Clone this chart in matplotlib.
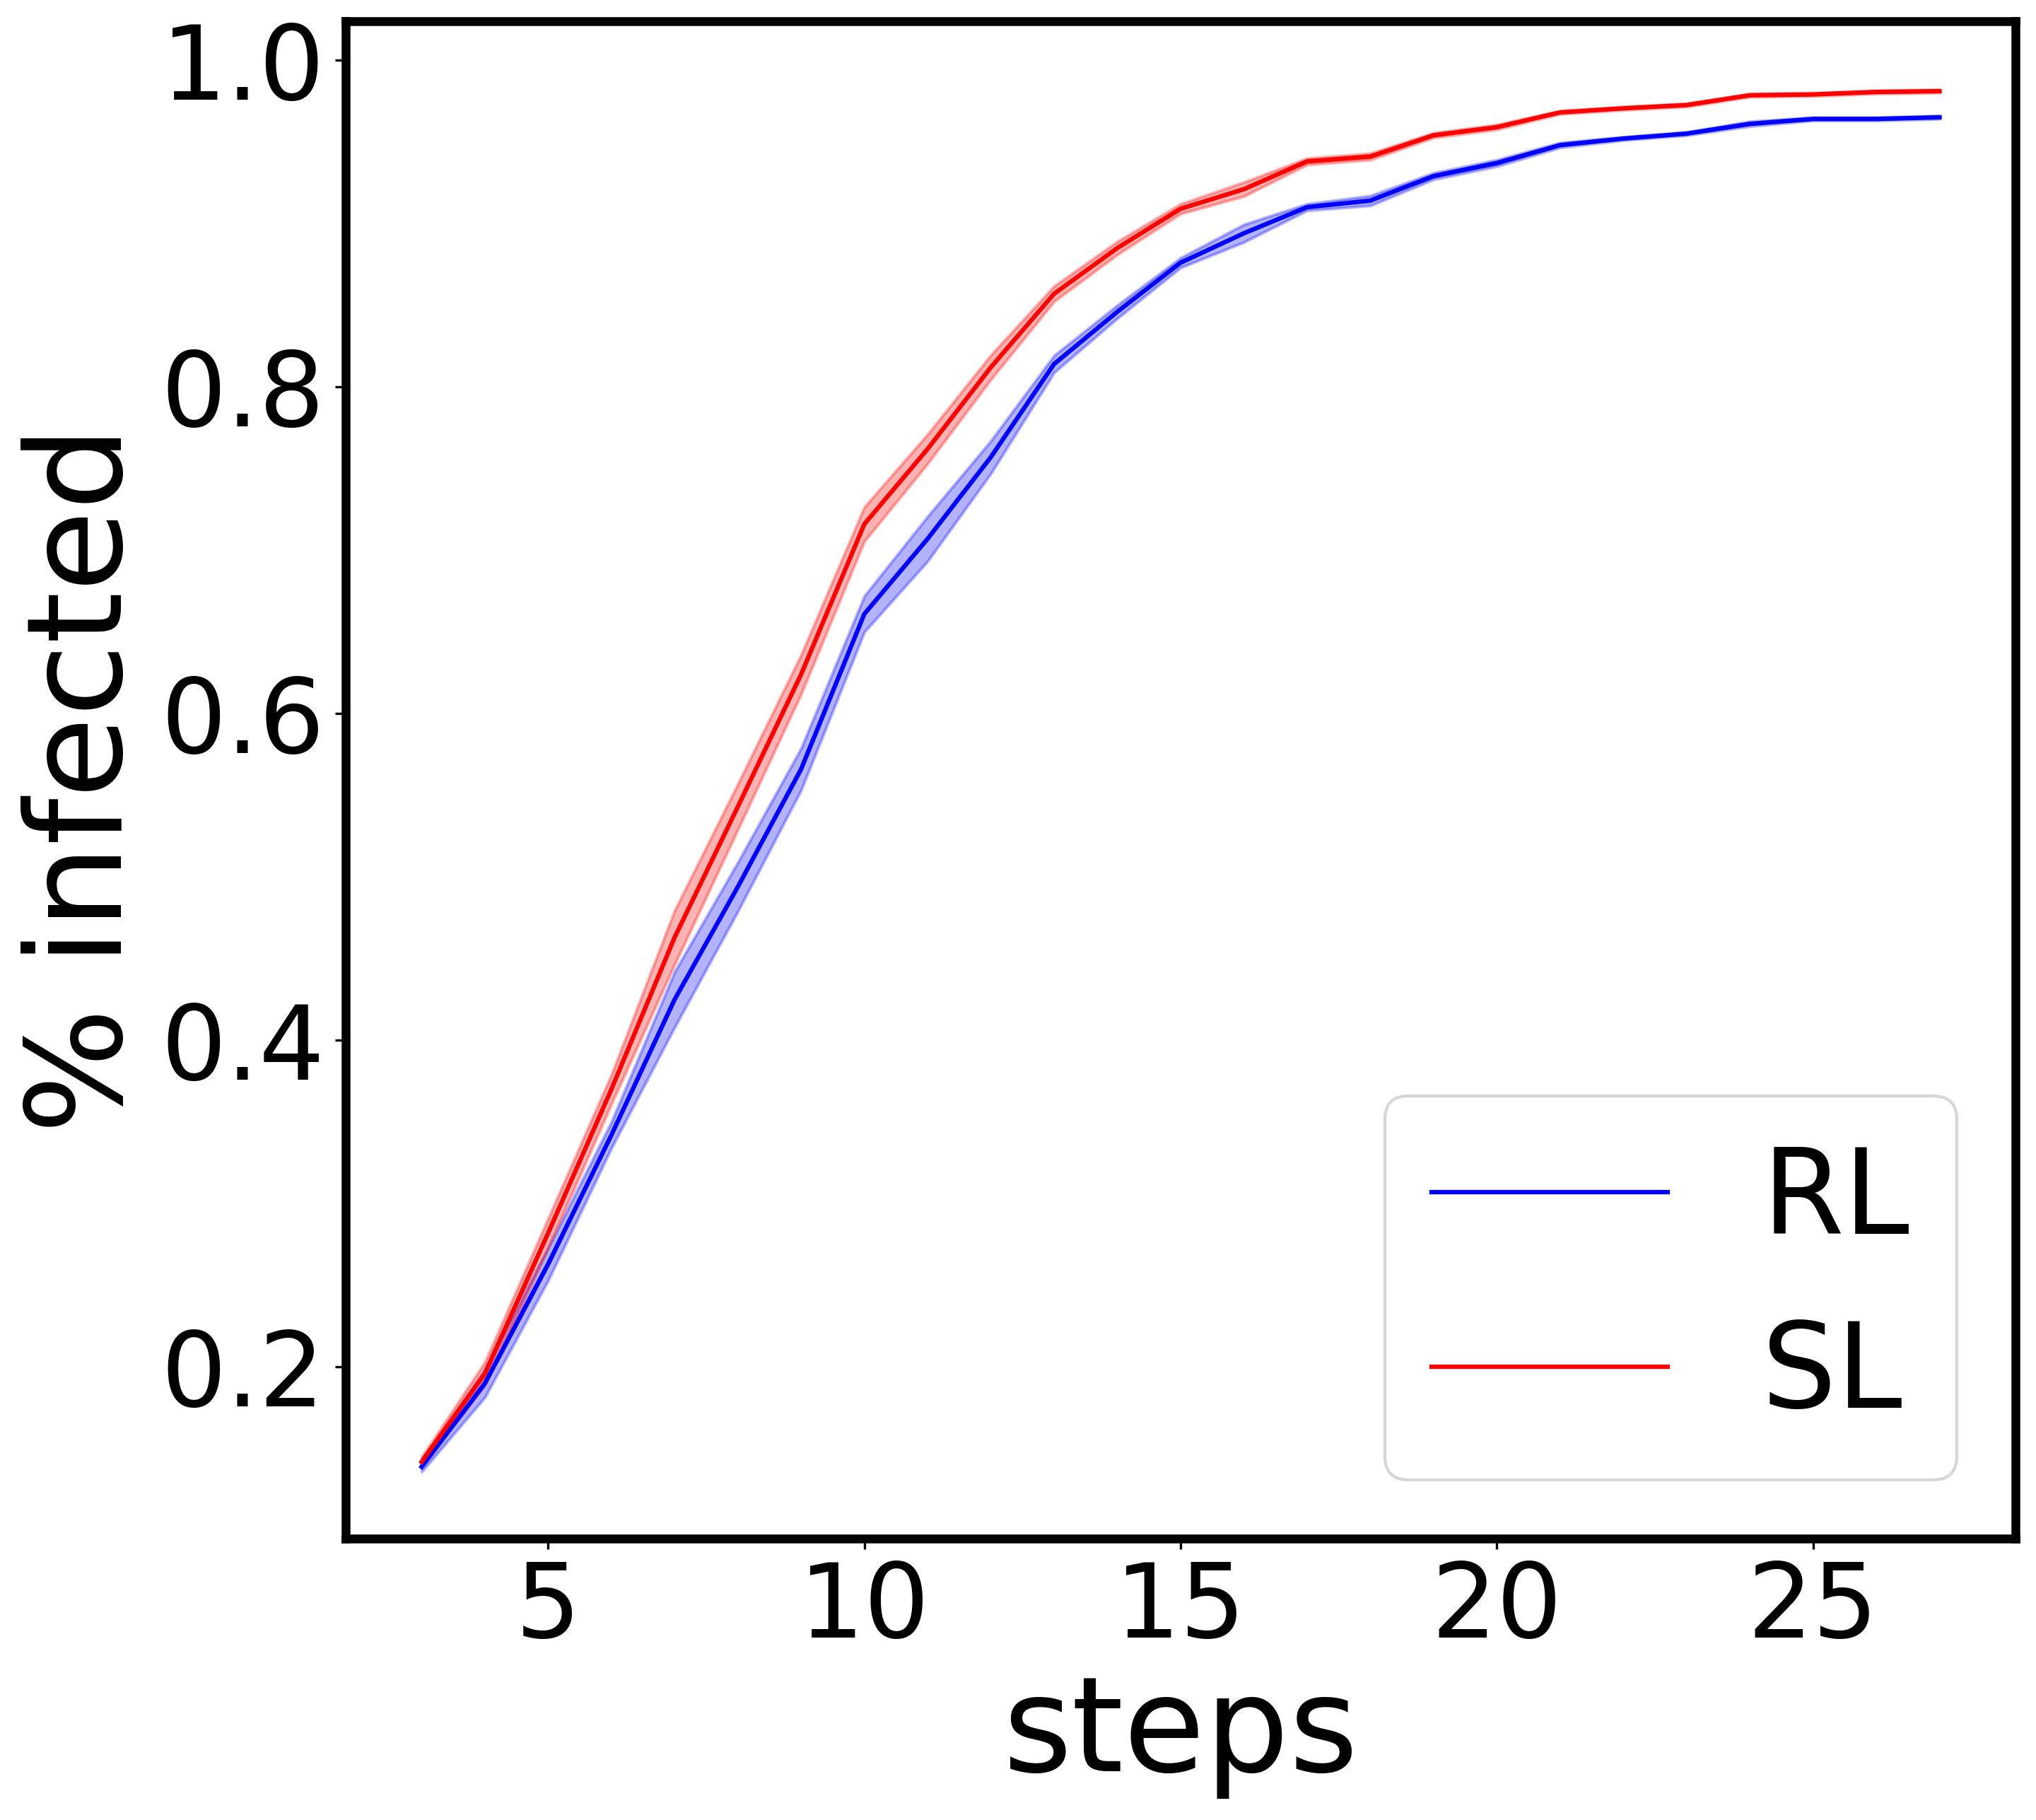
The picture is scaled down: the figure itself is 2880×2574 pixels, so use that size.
import numpy as np
import matplotlib.pyplot as plt

steps = np.arange(3, 28)

rl_mean = [0.139, 0.190, 0.263, 0.342, 0.425, 0.494, 0.566, 0.661, 0.707, 0.757,
           0.814, 0.846, 0.876, 0.894, 0.910, 0.914, 0.929, 0.937, 0.948, 0.952,
           0.955, 0.961, 0.964, 0.964, 0.965]
rl_std = [0.003, 0.0085, 0.010, 0.008, 0.017, 0.015, 0.0128, 0.011, 0.0137, 0.010,
          0.0052, 0.004, 0.003, 0.0054, 0.002, 0.003, 0.002, 0.002, 0.0015, 0.001,
          0.001, 0.0015, 0.001, 0.001, 0.001]

sl_mean = [0.142, 0.196, 0.282, 0.370, 0.463, 0.543, 0.624, 0.716, 0.762, 0.812,
           0.857, 0.885, 0.909, 0.921, 0.938, 0.941, 0.954, 0.959, 0.968, 0.9705,
           0.9725, 0.9785, 0.979, 0.9805, 0.981]
sl_std = [0.003, 0.007, 0.009, 0.009, 0.0165, 0.014, 0.012, 0.0105, 0.009, 0.0075,
          0.0047, 0.004, 0.003, 0.0043, 0.002, 0.002, 0.0015, 0.0015, 0.001, 0.001,
          0.001, 0.001, 0.001, 0.001, 0.001]

fig = plt.figure(figsize=(9.6, 8.58), dpi=300)
ax = fig.add_axes([0.1698, 0.1546, 0.9899 - 0.1698, 0.9885 - 0.1546])

for mean, std, color, label in [(rl_mean, rl_std, 'b', 'RL'),
                                (sl_mean, sl_std, 'r', 'SL')]:
    mean = np.array(mean)
    std = np.array(std)
    ax.plot(steps, mean, color=color, label=label, linewidth=1.5)
    ax.fill_between(steps, mean - std, mean + std, color=color, alpha=0.3)

ax.set_xlim(1.8, 28.2)
ax.set_ylim(0.095, 1.024)
ax.set_xticks([5, 10, 15, 20, 25])
ax.set_yticks([0.2, 0.4, 0.6, 0.8, 1.0])

for spine in ax.spines.values():
    spine.set_linewidth(3)

ax.tick_params(labelsize=35)
ax.set_xlabel('steps', fontsize=45)
ax.set_ylabel('% infected', fontsize=45)
ax.legend(loc='lower right', fontsize=40)

plt.savefig('out.png', dpi=300)
plt.close()
